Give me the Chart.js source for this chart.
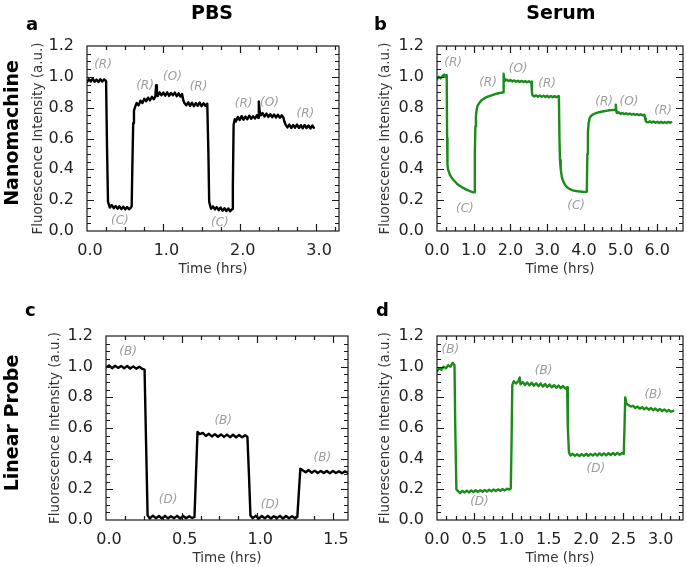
<!DOCTYPE html>
<html>
<head>
<meta charset="utf-8">
<script src="https://cdn.jsdelivr.net/npm/chart.js@4"></script>
<style>
html,body{margin:0;padding:0;background:#fff;}
#wrap{position:relative;width:687px;height:567px;overflow:hidden;font-family:"DejaVu Sans",sans-serif;}
canvas{position:absolute;left:0;top:0;}
.hd{position:absolute;font-weight:bold;color:#000;white-space:nowrap;line-height:1;font-size:19px;transform:translate(-50%,-50%);}
.rot{transform:translate(-50%,-50%) rotate(-90deg);}
.lt{position:absolute;font-weight:bold;color:#000;line-height:1;font-size:18px;}
</style>
</head>
<body>
<div id="wrap">
  <canvas id="ca" width="687" height="567"></canvas>
  <canvas id="cb" width="687" height="567"></canvas>
  <canvas id="cc" width="687" height="567"></canvas>
  <canvas id="cd" width="687" height="567"></canvas>
  <div class="hd" style="left:212px;top:12px;">PBS</div>
  <div class="hd" style="left:561px;top:12px;">Serum</div>
  <div class="hd rot" style="left:11px;top:133px;">Nanomachine</div>
  <div class="hd rot" style="left:11px;top:423px;">Linear Probe</div>
  <div class="lt" style="left:26px;top:15px;">a</div>
  <div class="lt" style="left:374px;top:15px;">b</div>
  <div class="lt" style="left:25px;top:301px;">c</div>
  <div class="lt" style="left:376px;top:301px;">d</div>
</div>
<script>
// ---------- Panel a: Nanomachine in PBS ----------
const timeA = [
  0, 0.025, 0.05, 0.075, 0.1, 0.125, 0.15, 0.175, 0.2, 0.225, 0.25,
  0.262, 0.275, 0.29,
  0.3, 0.325, 0.35, 0.375, 0.4, 0.425, 0.45, 0.475, 0.5, 0.525, 0.55, 0.575,
  0.585, 0.595, 0.605, 0.615, 0.63,
  0.65, 0.675, 0.7, 0.725, 0.75, 0.775, 0.8, 0.825, 0.85, 0.875, 0.895,
  0.905, 0.915,
  0.925, 0.95, 0.975, 1.0, 1.025, 1.05, 1.075, 1.1, 1.125, 1.15, 1.175, 1.2, 1.225, 1.245,
  1.26, 1.275,
  1.3, 1.325, 1.35, 1.375, 1.4, 1.425, 1.45, 1.475, 1.5, 1.525, 1.55, 1.575,
  1.59, 1.6, 1.615,
  1.625, 1.65, 1.675, 1.7, 1.725, 1.75, 1.775, 1.8, 1.825, 1.85, 1.875, 1.9,
  1.91, 1.92, 1.935,
  1.95, 1.975, 2.0, 2.025, 2.05, 2.075, 2.1, 2.125, 2.15, 2.175, 2.2, 2.225, 2.24,
  2.25, 2.26,
  2.275, 2.3, 2.325, 2.35, 2.375, 2.4, 2.425, 2.45, 2.475, 2.5, 2.525, 2.55, 2.57,
  2.585, 2.6,
  2.625, 2.65, 2.675, 2.7, 2.725, 2.75, 2.775, 2.8, 2.825, 2.85, 2.875, 2.9, 2.925, 2.95, 2.97
];
const fluorA = [
  0.965, 0.985, 0.97, 0.988, 0.968, 0.982, 0.966, 0.985, 0.97, 0.984, 0.972,
  0.55, 0.19, 0.165,
  0.152, 0.168, 0.148, 0.162, 0.145, 0.16, 0.142, 0.158, 0.14, 0.155, 0.141, 0.152,
  0.16, 0.45, 0.7, 0.78, 0.805,
  0.83, 0.815, 0.845, 0.83, 0.858, 0.842, 0.865, 0.848, 0.87, 0.855, 0.872,
  0.945, 0.9,
  0.875, 0.9, 0.88, 0.898, 0.878, 0.9, 0.876, 0.895, 0.88, 0.898, 0.874, 0.893, 0.872, 0.888,
  0.85, 0.83,
  0.815, 0.835, 0.812, 0.832, 0.81, 0.83, 0.812, 0.833, 0.81, 0.828, 0.812, 0.826,
  0.5, 0.19, 0.16,
  0.145, 0.16, 0.14, 0.155, 0.135, 0.152, 0.132, 0.148, 0.13, 0.146, 0.128, 0.142,
  0.3, 0.69, 0.725,
  0.71, 0.74, 0.72, 0.745, 0.722, 0.742, 0.725, 0.748, 0.728, 0.745, 0.73, 0.75, 0.735,
  0.84, 0.78,
  0.75, 0.765, 0.742, 0.762, 0.74, 0.758, 0.738, 0.756, 0.736, 0.754, 0.735, 0.75, 0.738,
  0.71, 0.69,
  0.672, 0.69, 0.668, 0.688, 0.67, 0.69, 0.668, 0.686, 0.666, 0.688, 0.668, 0.685, 0.665, 0.684, 0.67
];
const labelTextA = ['(R)', '(C)', '(R)', '(O)', '(R)', '(C)', '(R)', '(O)', '(R)'];
const labelXA = [0.21, 0.43, 0.76, 1.12, 1.46, 1.74, 2.05, 2.39, 2.86];
const labelYA = [1.08, 0.065, 0.94, 1.0, 0.935, 0.05, 0.825, 0.83, 0.76];
const xTicksA = [0, 1, 2, 3];

// ---------- Panel b: Nanomachine in Serum ----------
const timeB = [
  0, 0.05, 0.1, 0.15, 0.2, 0.22, 0.25, 0.265,
  0.275, 0.285, 0.3,
  0.35, 0.4, 0.45, 0.5, 0.55, 0.6, 0.65, 0.7, 0.75, 0.8, 0.85, 0.9, 0.95, 1.0, 1.02,
  1.03, 1.045, 1.06, 1.08, 1.1,
  1.15, 1.2, 1.25, 1.3, 1.35, 1.4, 1.45, 1.5, 1.55, 1.6, 1.65, 1.7, 1.75, 1.8,
  1.815, 1.83,
  1.85, 1.9, 1.95, 2.0, 2.05, 2.1, 2.15, 2.2, 2.25, 2.3, 2.35, 2.4, 2.45, 2.5, 2.55, 2.57,
  2.585, 2.6,
  2.65, 2.7, 2.75, 2.8, 2.85, 2.9, 2.95, 3.0, 3.05, 3.1, 3.15, 3.2, 3.25, 3.3, 3.32,
  3.335, 3.35, 3.37,
  3.4, 3.45, 3.5, 3.55, 3.6, 3.65, 3.7, 3.75, 3.8, 3.85, 3.9, 3.95, 4.0, 4.05, 4.08,
  4.095, 4.11, 4.13,
  4.16, 4.2, 4.25, 4.3, 4.35, 4.4, 4.45, 4.5, 4.55, 4.6, 4.65, 4.7, 4.75, 4.8, 4.85,
  4.87, 4.885,
  4.9, 4.95, 5.0, 5.05, 5.1, 5.15, 5.2, 5.25, 5.3, 5.35, 5.4, 5.45, 5.5, 5.55, 5.6, 5.65,
  5.67, 5.69,
  5.75, 5.8, 5.85, 5.9, 5.95, 6.0, 6.05, 6.1, 6.15, 6.2, 6.25, 6.3, 6.35, 6.38
];
const fluorB = [
  0.985, 1.0, 0.99, 1.005, 1.015, 1.0, 1.01, 1.0,
  0.6, 0.43, 0.4,
  0.365, 0.345, 0.33, 0.318, 0.305, 0.297, 0.288, 0.281, 0.275, 0.268, 0.263, 0.258, 0.254, 0.25, 0.252,
  0.5, 0.68, 0.745, 0.785, 0.81,
  0.83, 0.845, 0.855, 0.862, 0.868, 0.873, 0.877, 0.881, 0.885, 0.889, 0.892, 0.895, 0.897, 0.9,
  1.02, 0.985,
  0.975, 0.982, 0.972, 0.979, 0.97, 0.977, 0.968, 0.975, 0.967, 0.974, 0.966, 0.972, 0.965, 0.971, 0.964, 0.968,
  0.9, 0.88,
  0.872, 0.88, 0.871, 0.879, 0.87, 0.878, 0.869, 0.877, 0.868, 0.876, 0.868, 0.875, 0.867, 0.874, 0.868,
  0.6, 0.46, 0.4,
  0.35, 0.315, 0.295, 0.282, 0.274, 0.268, 0.264, 0.261, 0.259, 0.257, 0.256, 0.255, 0.254, 0.253, 0.254,
  0.5, 0.64, 0.7,
  0.735, 0.748, 0.756, 0.762, 0.766, 0.77, 0.772, 0.775, 0.777, 0.779, 0.781, 0.783, 0.784, 0.785, 0.786,
  0.82, 0.775,
  0.765, 0.77, 0.76, 0.766, 0.758, 0.764, 0.757, 0.762, 0.755, 0.76, 0.753, 0.758, 0.752, 0.757, 0.75, 0.754,
  0.73, 0.71,
  0.705, 0.712, 0.703, 0.71, 0.702, 0.709, 0.701, 0.708, 0.7, 0.707, 0.701, 0.708, 0.702, 0.706
];
const labelTextB = ['(R)', '(C)', '(R)', '(O)', '(R)', '(C)', '(R)', '(O)', '(R)'];
const labelXB = [0.44, 0.76, 1.39, 2.21, 3.0, 3.79, 4.55, 5.23, 6.16];
const labelYB = [1.09, 0.143, 0.96, 1.05, 0.955, 0.162, 0.84, 0.84, 0.78];
const xTicksB = [0, 1, 2, 3, 4, 5, 6];

// ---------- Panel c: Linear Probe in PBS ----------
const timeC = [
  0, 0.02, 0.04, 0.06, 0.08, 0.1, 0.12, 0.14, 0.16, 0.18, 0.2, 0.22, 0.24, 0.255,
  0.265, 0.275,
  0.29, 0.31, 0.33, 0.35, 0.37, 0.39, 0.41, 0.43, 0.45, 0.47, 0.49, 0.51, 0.53, 0.55, 0.57, 0.585,
  0.595, 0.605,
  0.62, 0.64, 0.66, 0.68, 0.7, 0.72, 0.74, 0.76, 0.78, 0.8, 0.82, 0.84, 0.86, 0.88, 0.9, 0.92, 0.935,
  0.945, 0.955,
  0.97, 0.99, 1.01, 1.03, 1.05, 1.07, 1.09, 1.11, 1.13, 1.15, 1.17, 1.19, 1.21, 1.23, 1.25, 1.265,
  1.275, 1.285,
  1.3, 1.32, 1.34, 1.36, 1.38, 1.4, 1.42, 1.44, 1.46, 1.48, 1.5, 1.52, 1.54, 1.56, 1.58, 1.6
];
const fluorC = [
  0.995, 1.008, 0.99, 1.006, 0.992, 1.005, 0.99, 1.004, 0.988, 1.002, 0.987, 1.0, 0.985, 0.98,
  0.5, 0.03,
  0.01, 0.028, 0.012, 0.026, 0.01, 0.027, 0.011, 0.025, 0.012, 0.027, 0.01, 0.026, 0.012, 0.025, 0.013, 0.02,
  0.3, 0.575,
  0.56, 0.568, 0.548, 0.562, 0.545, 0.56, 0.543, 0.558, 0.542, 0.557, 0.54, 0.556, 0.54, 0.554, 0.539, 0.553, 0.542,
  0.3, 0.03,
  0.012, 0.027, 0.01, 0.026, 0.011, 0.027, 0.01, 0.025, 0.012, 0.027, 0.01, 0.026, 0.012, 0.025, 0.011, 0.02,
  0.18, 0.335,
  0.325, 0.312, 0.326, 0.308, 0.322, 0.307, 0.32, 0.306, 0.32, 0.305, 0.319, 0.306, 0.318, 0.305, 0.317, 0.308
];
const labelTextC = ['(B)', '(D)', '(B)', '(D)', '(B)'];
const labelXC = [0.146, 0.41, 0.775, 1.085, 1.43];
const labelYC = [1.095, 0.13, 0.645, 0.1, 0.405];
const xTicksC = [0, 0.5, 1, 1.5];

// ---------- Panel d: Linear Probe in Serum ----------
const timeD = [
  0, 0.03, 0.06, 0.09, 0.12, 0.15, 0.18, 0.21, 0.235,
  0.245, 0.26,
  0.28, 0.31, 0.34, 0.37, 0.4, 0.43, 0.46, 0.49, 0.52, 0.55, 0.58, 0.61, 0.64, 0.67, 0.7, 0.73, 0.76, 0.79, 0.82, 0.85, 0.88, 0.91, 0.94, 0.97, 0.99,
  1.0, 1.01,
  1.03, 1.06, 1.09, 1.11, 1.12, 1.15, 1.18, 1.21, 1.24, 1.27, 1.3, 1.33, 1.36, 1.39, 1.42, 1.45, 1.48, 1.51, 1.54, 1.57, 1.6, 1.63, 1.66, 1.69, 1.72, 1.745,
  1.755, 1.77,
  1.79, 1.82, 1.85, 1.88, 1.91, 1.94, 1.97, 2.0, 2.03, 2.06, 2.09, 2.12, 2.15, 2.18, 2.21, 2.24, 2.27, 2.3, 2.33, 2.36, 2.39, 2.42, 2.45, 2.48, 2.505,
  2.515, 2.525,
  2.54, 2.57, 2.6, 2.63, 2.66, 2.69, 2.72, 2.75, 2.78, 2.81, 2.84, 2.87, 2.9, 2.93, 2.96, 2.99, 3.02, 3.05, 3.08, 3.11, 3.14, 3.17
];
const fluorD = [
  0.97, 0.99, 0.98, 1.0, 0.99, 1.01, 1.0, 1.025, 1.01,
  0.6, 0.2,
  0.19, 0.175, 0.19, 0.18, 0.192, 0.18, 0.193, 0.182, 0.194, 0.183, 0.195, 0.184, 0.196, 0.186, 0.197, 0.187, 0.199, 0.189, 0.2, 0.19, 0.202, 0.193, 0.204, 0.198, 0.205,
  0.5, 0.88,
  0.905, 0.89, 0.905, 0.93, 0.885, 0.9, 0.88, 0.897, 0.878, 0.895, 0.876, 0.892, 0.873, 0.89, 0.87, 0.887, 0.868, 0.884, 0.865, 0.88, 0.862, 0.877, 0.86, 0.874, 0.858, 0.866,
  0.6, 0.44,
  0.42, 0.432, 0.418, 0.43, 0.417, 0.43, 0.418, 0.432, 0.419, 0.431, 0.42, 0.433, 0.42, 0.434, 0.421, 0.435, 0.422, 0.436, 0.423, 0.437, 0.424, 0.438, 0.425, 0.437, 0.43,
  0.6, 0.8,
  0.76, 0.748, 0.74, 0.745, 0.73, 0.74, 0.726, 0.736, 0.722, 0.733, 0.719, 0.73, 0.716, 0.727, 0.713, 0.724, 0.71, 0.721, 0.708, 0.718, 0.706, 0.712
];
const labelTextD = ['(B)', '(D)', '(B)', '(D)', '(B)'];
const labelXD = [0.18, 0.57, 1.43, 2.13, 2.9];
const labelYD = [1.11, 0.117, 0.97, 0.333, 0.815];
const xTicksD = [0, 0.5, 1, 1.5, 2, 2.5, 3];

const yTicks = [0, 0.2, 0.4, 0.6, 0.8, 1.0, 1.2];

const FONT = 'DejaVu Sans';

function makeFramePlugin(cfg) {
  return {
    id: 'frameTicks',
    afterDatasetsDraw(chart) {
      const ctx = chart.ctx;
      const a = chart.chartArea;
      const xs = chart.scales.x, ys = chart.scales.y;
      ctx.save();
      ctx.strokeStyle = '#1a1a1a';
      ctx.lineWidth = 1.2;
      ctx.beginPath();
      const isMajor = (v, list) => list.some(m => Math.abs(m - v) < 1e-6);
      const nx = Math.floor(xs.max / cfg.xMinor + 1e-6);
      for (let i = 1; i <= nx; i++) {
        const v = i * cfg.xMinor;
        const len = isMajor(v, cfg.xTicks) ? 7 : 4;
        const px = Math.round(xs.getPixelForValue(v)) + 0.5;
        if (px >= a.right - 1) continue;
        ctx.moveTo(px, a.bottom); ctx.lineTo(px, a.bottom - len);
        ctx.moveTo(px, a.top); ctx.lineTo(px, a.top + len);
      }
      const ny = Math.round(ys.max / 0.05);
      for (let i = 1; i < ny; i++) {
        const v = i * 0.05;
        const len = isMajor(v, yTicks) ? 7 : 4;
        const py = Math.round(ys.getPixelForValue(v)) + 0.5;
        ctx.moveTo(a.left, py); ctx.lineTo(a.left + len, py);
        ctx.moveTo(a.right, py); ctx.lineTo(a.right - len, py);
      }
      ctx.stroke();
      ctx.strokeRect(a.left, a.top, a.right - a.left, a.bottom - a.top);
      ctx.font = 'italic 12px "DejaVu Sans"';
      ctx.fillStyle = '#9c9c9c';
      ctx.textAlign = 'center';
      ctx.textBaseline = 'middle';
      cfg.labelText.forEach((s, i) => {
        ctx.fillText(s, xs.getPixelForValue(cfg.labelX[i]), ys.getPixelForValue(cfg.labelY[i]));
      });
      ctx.restore();
    }
  };
}

function buildPanel(id, times, values, color, cfg) {
  const pts = times.map((t, i) => ({x: t, y: values[i]}));
  return new Chart(document.getElementById(id), {
    type: 'line',
    data: {
      datasets: [{
        data: pts,
        borderColor: color,
        borderWidth: cfg.lineWidth,
        pointRadius: 0,
        tension: 0,
        fill: false,
        borderJoinStyle: 'round',
        borderCapStyle: 'round'
      }]
    },
    options: {
      responsive: false,
      animation: false,
      events: [],
      layout: {padding: cfg.pad},
      plugins: {legend: {display: false}, tooltip: {enabled: false}, title: {display: false}},
      scales: {
        x: {
          type: 'linear', min: 0, max: cfg.xMax,
          grid: {display: false}, border: {display: false},
          afterBuildTicks: ax => { ax.ticks = cfg.xTicks.map(v => ({value: v})); },
          afterFit: ax => { ax.height = 47; },
          ticks: {padding: 2, labelOffset: cfg.labelOffset, color: '#222', autoSkip: false, maxRotation: 0,
                  font: {family: FONT, size: 16}, callback: v => Number(v).toFixed(1)},
          title: {display: true, text: 'Time (hrs)', color: '#333',
                  font: {family: FONT, size: 13.5}, padding: {top: 0, bottom: 0}}
        },
        y: {
          type: 'linear', min: 0, max: 1.2,
          grid: {display: false}, border: {display: false},
          afterBuildTicks: ax => { ax.ticks = yTicks.map(v => ({value: v})); },
          afterFit: ax => { ax.width = 60; },
          ticks: {padding: 5, color: '#222', autoSkip: false,
                  font: {family: FONT, size: 16}, callback: v => Number(v).toFixed(1)},
          title: {display: true, text: 'Fluorescence Intensity (a.u.)', color: '#333',
                  font: {family: FONT, size: 13.5}, padding: {top: cfg.yTitlePad, bottom: 0}}
        }
      }
    },
    plugins: [makeFramePlugin(cfg)]
  });
}

const BLACK = '#000000';
const GREEN = '#1b8c1b';

buildPanel('ca', timeA, fluorA, BLACK, {
  xMax: 3.3, xTicks: xTicksA, xMinor: 0.25, lineWidth: 2.4, yTitlePad: 3, labelOffset: 3,
  pad: {left: 27, top: 46, right: 348, bottom: 289},
  labelText: labelTextA, labelX: labelXA, labelY: labelYA
});
buildPanel('cb', timeB, fluorB, GREEN, {
  xMax: 6.7, xTicks: xTicksB, xMinor: 0.25, lineWidth: 2.4, yTitlePad: 0, labelOffset: 0,
  pad: {left: 377, top: 46, right: 4, bottom: 289},
  labelText: labelTextB, labelX: labelXB, labelY: labelYB
});
buildPanel('cc', timeC, fluorC, BLACK, {
  xMax: 1.6, xTicks: xTicksC, xMinor: 0.125, lineWidth: 2.4, yTitlePad: 1, labelOffset: 3,
  pad: {left: 46, top: 336, right: 339, bottom: 0},
  labelText: labelTextC, labelX: labelXC, labelY: labelYC
});
buildPanel('cd', timeD, fluorD, GREEN, {
  xMax: 3.3, xTicks: xTicksD, xMinor: 0.125, lineWidth: 2.4, yTitlePad: 0, labelOffset: 0,
  pad: {left: 377, top: 336, right: 4, bottom: 0},
  labelText: labelTextD, labelX: labelXD, labelY: labelYD
});
</script>
</body>
</html>
